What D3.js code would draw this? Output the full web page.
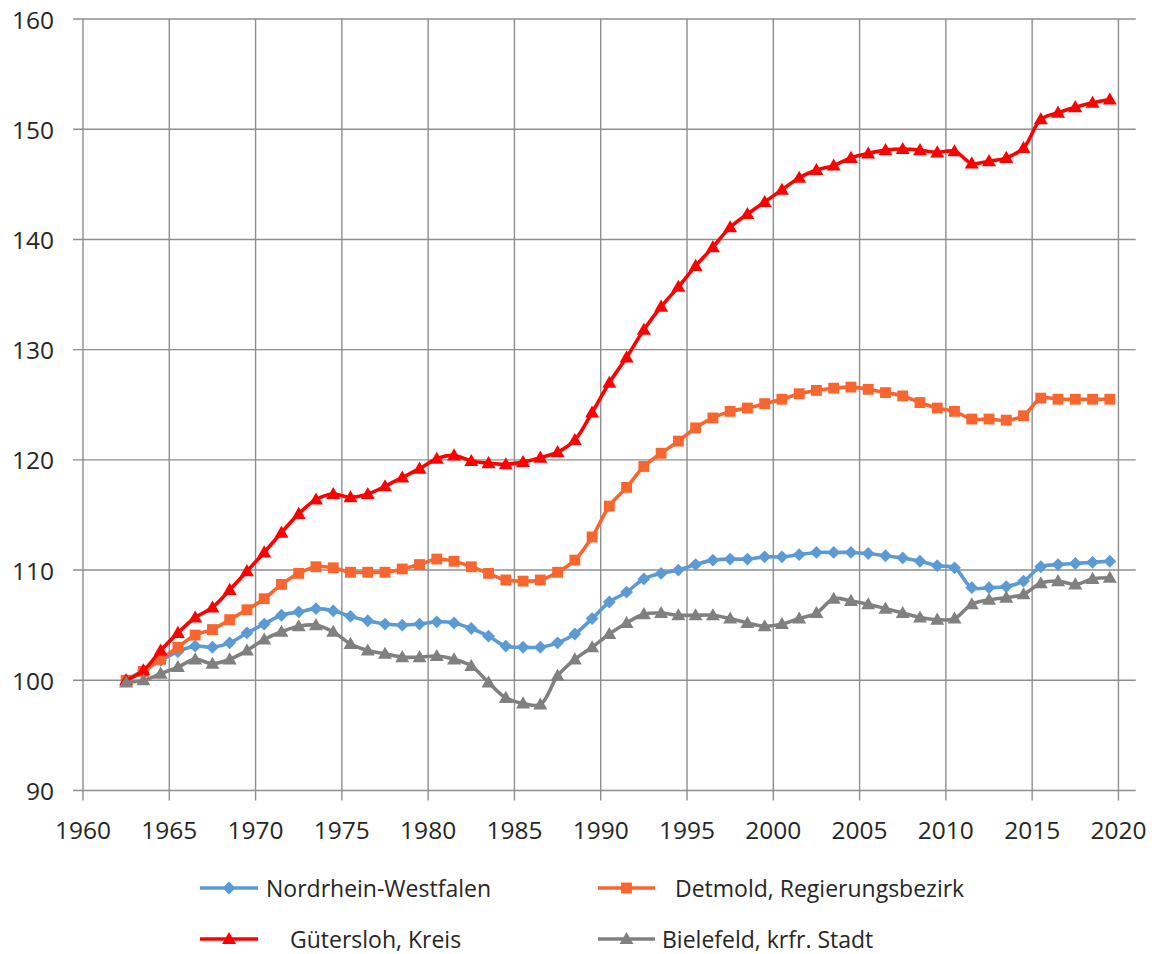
<!DOCTYPE html>
<html>
<head>
<meta charset="utf-8">
<script src="https://cdn.jsdelivr.net/npm/d3@7"></script>
<style>
  html, body { margin: 0; padding: 0; background: #fff; }
  svg { display: block; }
  text { font-family: "Open Sans", "Noto Sans", sans-serif; fill: #262626; }
</style>
</head>
<body>
<svg id="chart" width="1163" height="954"></svg>
<script>
const years = d3.range(1962, 2020);

const seriesNames = ["Nordrhein-Westfalen", "Detmold, Regierungsbezirk", "Gütersloh, Kreis", "Bielefeld, krfr. Stadt"];

const nrw = [100.0,100.9,101.8,102.6,103.1,103.0,103.4,104.3,105.1,105.9,106.2,106.5,106.3,105.8,105.4,105.1,105.0,105.1,105.3,105.2,
  104.7,104.0,103.1,103.0,103.0,103.4,104.2,105.6,107.1,108.0,109.2,109.7,110.0,110.5,110.9,111.0,111.0,111.2,111.2,111.4,
  111.6,111.6,111.6,111.5,111.3,111.1,110.8,110.4,110.2,108.4,108.4,108.5,109.0,110.3,110.5,110.6,110.7,110.8];

const detmold = [100.0,100.8,101.9,103.0,104.1,104.6,105.5,106.4,107.4,108.7,109.7,110.3,110.2,109.8,109.8,109.8,110.1,110.5,111.0,110.8,
  110.3,109.7,109.1,109.0,109.1,109.8,110.9,113.0,115.8,117.5,119.4,120.6,121.7,122.9,123.8,124.4,124.7,125.1,125.5,126.0,
  126.3,126.5,126.6,126.4,126.1,125.8,125.2,124.7,124.4,123.7,123.7,123.6,124.0,125.6,125.5,125.5,125.5,125.5];

const guetersloh = [100.0,100.9,102.7,104.3,105.7,106.6,108.2,109.9,111.6,113.4,115.1,116.4,116.9,116.6,116.9,117.6,118.4,119.2,120.1,120.4,
  119.9,119.7,119.6,119.8,120.2,120.7,121.8,124.3,127.0,129.3,131.8,133.9,135.7,137.6,139.3,141.1,142.3,143.4,144.5,145.6,
  146.3,146.7,147.4,147.8,148.1,148.2,148.1,147.9,148.0,146.9,147.1,147.4,148.3,150.9,151.5,152.0,152.4,152.7];

const bielefeld = [99.8,100.0,100.6,101.2,101.9,101.5,101.9,102.7,103.7,104.4,104.9,105.0,104.4,103.3,102.7,102.4,102.1,102.1,102.2,101.9,
  101.3,99.8,98.4,97.9,97.8,100.4,101.9,103.0,104.2,105.2,106.0,106.1,105.9,105.9,105.9,105.6,105.2,104.9,105.1,105.6,
  106.1,107.4,107.2,106.9,106.5,106.1,105.7,105.5,105.6,106.9,107.3,107.5,107.8,108.8,109.0,108.7,109.2,109.3];

const xTicks = d3.range(1960, 2021, 5);
const yTicks = d3.range(90, 161, 10);

const colors = ["#5B9BD5", "#F8652E", "#FF0000", "#808080"];
const markers = ["diamond", "square", "triangle", "triangle"];
const allValues = [nrw, detmold, guetersloh, bielefeld];

const svg = d3.select("#chart");
const x = d3.scaleLinear().domain([1960, 2021]).range([83, 1135.7]);
const y = d3.scaleLinear().domain([90, 160]).range([790.5, 19]);

const gridColor = "#8E8E8E";

svg.append("g").selectAll("line").data(yTicks).join("line")
  .attr("x1", x(1960) - 10).attr("x2", x(2021))
  .attr("y1", d => y(d)).attr("y2", d => y(d))
  .attr("stroke", gridColor).attr("stroke-width", 1.4);

svg.append("g").selectAll("line").data(xTicks).join("line")
  .attr("x1", d => x(d)).attr("x2", d => x(d))
  .attr("y1", y(160)).attr("y2", y(90) + 10)
  .attr("stroke", gridColor).attr("stroke-width", 1.4);

svg.append("g").selectAll("text").data(yTicks).join("text")
  .attr("x", 54).attr("y", d => y(d))
  .attr("text-anchor", "end").attr("dominant-baseline", "central")
  .style("font-size", "24.5px")
  .text(d => d);

svg.append("g").selectAll("text").data(xTicks).join("text")
  .attr("x", d => x(d)).attr("y", 829)
  .attr("text-anchor", "middle").attr("dominant-baseline", "central")
  .style("font-size", "24.5px")
  .text(d => d);

function symbolFor(m, size) {
  if (m === "diamond") return d3.symbol().type(d3.symbolDiamond2).size(size)();
  if (m === "square") return d3.symbol().type(d3.symbolSquare2).size(size)();
  return d3.symbol().type(d3.symbolTriangle2).size(size)();
}
const symSize = { diamond: 105, square: 150, triangle: 140 };

const line = d3.line()
  .x(d => x(d.year + 0.5))
  .y(d => y(d.value))
  .curve(d3.curveCatmullRom.alpha(0.5));

allValues.forEach((vals, i) => {
  const data = years.map((yr, j) => ({ year: yr, value: vals[j] }));
  const g = svg.append("g");
  g.append("path").datum(data)
    .attr("d", line)
    .attr("fill", "none")
    .attr("stroke", colors[i])
    .attr("stroke-width", 3.6)
    .attr("stroke-linejoin", "round");
  g.selectAll("path.m").data(data).join("path")
    .attr("class", "m")
    .attr("transform", d => `translate(${x(d.year + 0.5)},${y(d.value) + (markers[i] === "triangle" ? 1 : 0)})`)
    .attr("d", symbolFor(markers[i], symSize[markers[i]]))
    .attr("fill", colors[i]);
});

const legendItems = [
  { i: 0, x1: 200, x2: 258, tx: 266, ty: 888 },
  { i: 1, x1: 598, x2: 655, tx: 675, ty: 888 },
  { i: 2, x1: 200, x2: 258, tx: 290, ty: 939 },
  { i: 3, x1: 598, x2: 655, tx: 662, ty: 939 }
];
const lg = svg.append("g");
legendItems.forEach(it => {
  lg.append("line")
    .attr("x1", it.x1).attr("x2", it.x2)
    .attr("y1", it.ty).attr("y2", it.ty)
    .attr("stroke", colors[it.i]).attr("stroke-width", 3.6);
  lg.append("path")
    .attr("transform", `translate(${(it.x1 + it.x2) / 2},${it.ty + (markers[it.i] === "triangle" ? 1 : 0)})`)
    .attr("d", symbolFor(markers[it.i], symSize[markers[it.i]]))
    .attr("fill", colors[it.i]);
  lg.append("text")
    .attr("x", it.tx).attr("y", it.ty)
    .attr("dominant-baseline", "central")
    .style("font-size", "23px")
    .text(seriesNames[it.i]);
});
</script>
</body>
</html>
